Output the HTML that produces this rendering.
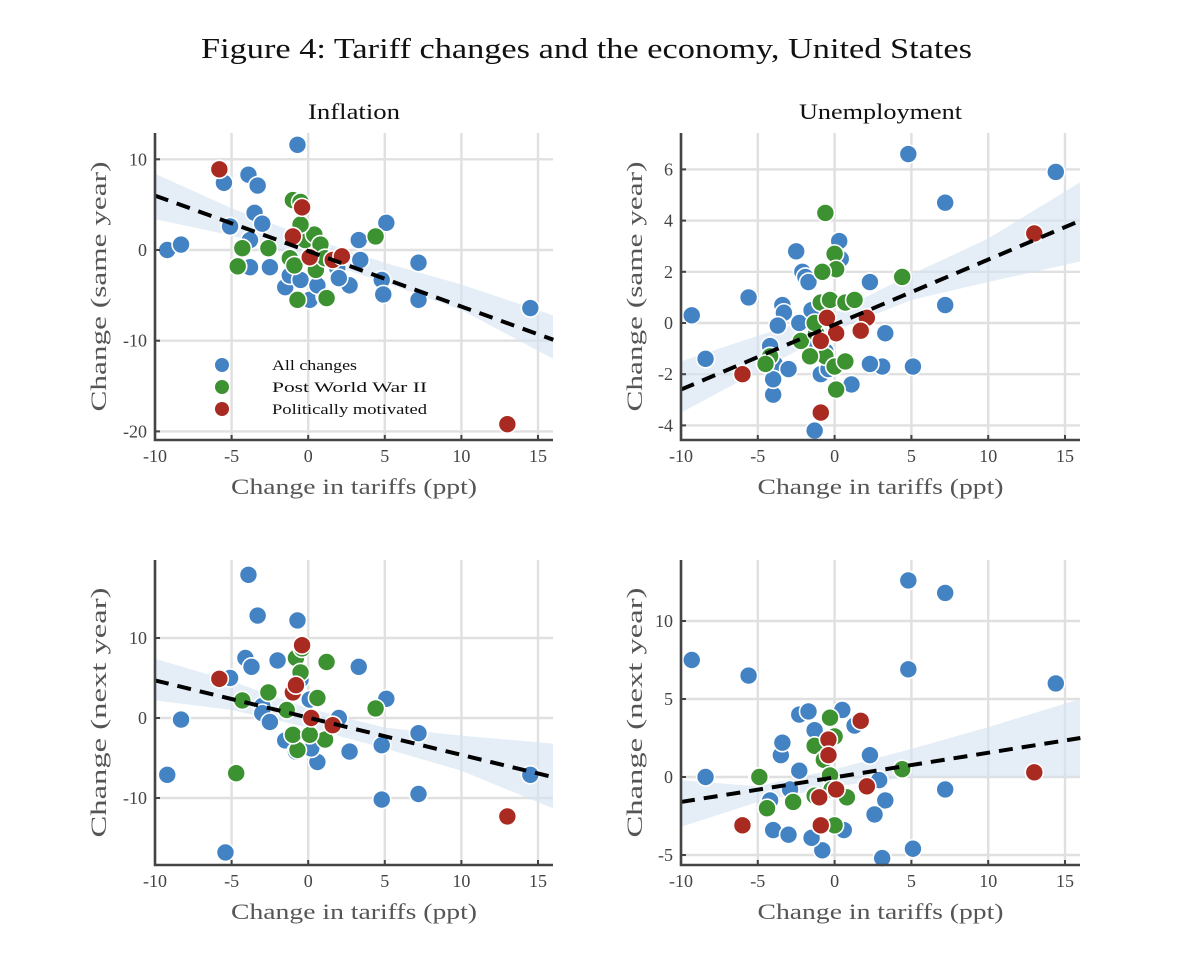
<!DOCTYPE html>
<html><head><meta charset="utf-8"><style>
body{margin:0;background:#fff;}
svg text{font-family:"Liberation Serif",serif;}
</style></head><body>
<svg id="fig" width="1200" height="958" viewBox="0 0 1200 958" xmlns="http://www.w3.org/2000/svg">
<rect width="1200" height="958" fill="#fff"/>
<text x="201" y="58" textLength="771" lengthAdjust="spacingAndGlyphs" font-size="28" fill="#111">Figure 4: Tariff changes and the economy, United States</text>
</svg>
<script>
// ---- Panel 1: Inflation, same year ----
const infSameBlue=[[-9.2,0],[-8.3,0.6],[-5.5,7.4],[-3.9,8.3],[-3.3,7.1],[-0.7,11.6],[-3.5,4.1],[-3,2.9],[-5.1,2.6],[-3.8,1.1],[-2.5,-1.9],[-3.8,-1.9],[-1.5,-4.1],[-1.2,-2.8],[0.1,-5.5],[1.1,-5.1],[1.9,-2],[2.7,-3.9],[3.4,-1.1],[3.3,1.1],[5.1,3],[4.8,-3.3],[4.9,-4.9],[7.2,-1.4],[7.2,-5.5],[14.5,-6.4],[-0.5,-3.3],[2,-3.1],[0.6,-3.9]];
const infSameGreen=[[-1,5.5],[-0.5,5.3],[-4.3,0.2],[-2.6,0.2],[-4.6,-1.8],[-0.7,-5.5],[1.2,-5.3],[4.4,1.5],[-1.2,-0.9],[-0.2,1.1],[0.4,1.7],[0.8,0.6],[0.5,-2.2],[1.1,-0.9],[-0.5,2.8],[-0.9,-1.7]];
const infSameRed=[[-5.8,8.9],[-0.4,4.7],[-1,1.5],[0.1,-0.8],[1.6,-1.1],[2.2,-0.7],[13,-19.2]];
const infSameFit=[[-10,6],[16,-9.9]];
const infSameBandX=[-10,-5,0,5,10,16];
const infSameBandLo=[3.4,1.6,-0.8,-3.6,-6.6,-12];
const infSameBandHi=[8.4,4.6,1.4,-1.4,-3.8,-7.2];
// ---- Panel 2: Unemployment, same year ----
const unSameBlue=[[-9.3,0.3],[-8.4,-1.4],[-5.6,1],[-4,-2.8],[-2.5,2.8],[-2.1,2],[-3.4,0.7],[-3.3,0.4],[-2.3,0],[-3.7,-0.1],[-4.2,-0.9],[-3.9,-1.6],[-3,-1.8],[-4,-2.2],[-1.5,0.5],[-1.9,1.8],[-1.7,1.6],[0.3,3.2],[0.4,2.5],[2.3,1.6],[4.8,6.6],[7.2,4.7],[7.2,0.7],[5.1,-1.7],[14.4,5.9],[3.3,-0.4],[3.1,-1.7],[2.3,-1.6],[1.1,-2.4],[-0.9,-2],[-1.3,-4.2],[-0.6,-1.1],[-0.4,-1.8],[-1.5,-0.7]];
const unSameGreen=[[-0.6,4.3],[0,2.7],[0.1,2.1],[-0.8,2],[-0.9,0.8],[-0.3,0.9],[0.7,0.8],[1.3,0.9],[-4.2,-1.3],[-4.5,-1.6],[-2.2,-0.7],[-1.2,-0.4],[-0.6,-1.3],[0,-1.7],[0.1,-2.6],[0.7,-1.5],[4.4,1.8],[-1.6,-1.3],[-1.3,0]];
const unSameRed=[[-6,-2],[-0.5,0.2],[2.1,0.2],[1.7,-0.3],[0.1,-0.4],[-0.9,-0.7],[-0.9,-3.5],[13,3.5]];
const unSameFit=[[-10,-2.6],[16,4]];
const unSameBandX=[-10,-5,0,5,10,16];
const unSameBandLo=[-3.5,-1.9,-0.3,0.9,1.6,2.4];
const unSameBandHi=[-1.5,-0.5,0.4,1.9,3.3,5.5];
// ---- Panel 3: Inflation, next year ----
const infNextBlue=[[-9.2,-7.1],[-8.3,-0.2],[-3.9,17.9],[-3.3,12.8],[-0.7,12.2],[-4.1,7.5],[-3.7,6.4],[-5.1,5],[-2,7.2],[-3,1.5],[-3,0.6],[-2.5,-0.5],[-1.5,-2.8],[0.6,-5.5],[2,0],[2.7,-4.2],[3.3,6.4],[5.1,2.4],[4.8,-3.4],[4.8,-10.2],[7.2,-1.9],[7.2,-9.5],[14.5,-7.1],[-5.4,-16.8],[-0.8,-4.2],[0.2,-3.8],[-0.5,4.8],[0.1,2.3]];
const infNextGreen=[[-4.7,-6.9],[-4.3,2.2],[-2.6,3.2],[1.2,7],[4.4,1.2],[-0.8,7.5],[-0.4,8.7],[-0.7,-4],[1.1,-2.7],[-1,-2.1],[0.1,-2.1],[0.6,2.5],[-0.5,5.7],[-1.4,1]];
const infNextRed=[[-5.8,4.9],[-0.4,9.1],[-1,3.2],[-0.8,4.1],[0.2,0],[1.6,-0.9],[13,-12.3]];
const infNextFit=[[-10,4.7],[16,-7.4]];
const infNextBandX=[-10,-5,0,5,10,16];
const infNextBandLo=[2.2,1,-1.2,-3.8,-6.6,-11.3];
const infNextBandHi=[7.4,4.6,1.2,-1.2,-2.2,-3.2];
// ---- Panel 4: Unemployment, next year ----
const unNextBlue=[[-9.3,7.5],[-8.4,0],[-5.6,6.5],[-5,0],[-4,-3.4],[-3,-3.7],[-3.5,1.4],[-3.4,2.2],[-2.3,4],[-1.7,4.2],[-1.3,3],[0.5,4.3],[1.3,3.3],[2.3,1.4],[2.9,-0.2],[3.3,-1.5],[2.6,-2.4],[3.1,-5.2],[5.1,-4.6],[4.8,12.6],[7.2,11.8],[4.8,6.9],[7.2,-0.8],[14.4,6],[-0.8,-4.7],[-1.5,-3.9],[0.6,-3.4],[-4.2,-1.5],[-2.9,-0.8],[-2.3,0.4]];
const unNextGreen=[[-4.9,0],[-4.4,-2],[-2.7,-1.6],[-0.3,3.8],[0,2.6],[-1.3,2],[-0.7,1.1],[-0.3,0.1],[-1.3,-1.2],[-0.9,-3.1],[0,-3.1],[0.8,-1.3],[4.4,0.5],[-0.2,-0.8]];
const unNextRed=[[-6,-3.1],[1.7,3.6],[-0.4,2.4],[-0.4,1.4],[2.1,-0.6],[0.1,-0.8],[-1,-1.3],[-0.9,-3.1],[13,0.3]];
const unNextFit=[[-10,-1.6],[16,2.5]];
const unNextBandX=[-10,-5,0,5,10,16];
const unNextBandLo=[-3.2,-1.6,-0.6,0,0,0];
const unNextBandHi=[-0.2,-0.6,0.5,1.8,3.2,5];
// ticks
const xTicks=[-10,-5,0,5,10,15];
const xTickLabels=["-10","-5","0","5","10","15"];
const infSameYTicks=[10,0,-10,-20];
const unSameYTicks=[6,4,2,0,-2,-4];
const infNextYTicks=[10,0,-10];
const unNextYTicks=[10,5,0,-5];
const legendLabels=["All changes","Post World War II","Politically motivated"];

const NS="http://www.w3.org/2000/svg";
const svg=document.getElementById('fig');
const COL={blue:"#4383c4",green:"#3c9130",red:"#a82a20"};
function mk(tag,attrs,parent){const e=document.createElementNS(NS,tag);for(const k in attrs)e.setAttribute(k,attrs[k]);(parent||svg).appendChild(e);return e;}

function panel(cfg){
  const g=mk('g',{});
  
  
  const xs=v=>cfg.x0+(v+10)*cfg.xk;
  const ys=v=>cfg.yZero-v*cfg.yk;
  const L=cfg.x0, R=cfg.right, T=cfg.top, B=cfg.bottom;
  xTicks.forEach(v=>{const l=mk('line',{x1:xs(v),x2:xs(v),y1:T,y2:B,stroke:"#e0e0e0","stroke-width":2.4},g);
    });
  cfg.yTicks.forEach(v=>{const l=mk('line',{x1:L,x2:R,y1:ys(v),y2:ys(v),stroke:"#e0e0e0","stroke-width":2.4},g);
    });
  let d="";
  cfg.bandX.forEach((v,i)=>{d+=(i?"L":"M")+Math.min(xs(v),R)+","+ys(cfg.bandHi[i]);});
  for(let i=cfg.bandX.length-1;i>=0;i--)d+="L"+Math.min(xs(cfg.bandX[i]),R)+","+ys(cfg.bandLo[i]);
  const band=mk('path',{d:d+"Z",fill:"#d3e3f2","fill-opacity":0.6},g);
  
  
  [['blue',cfg.blue],['green',cfg.green],['red',cfg.red]].forEach(([c,arr])=>{
    arr.forEach(p=>{const ci=mk('circle',{cx:xs(p[0]),cy:ys(p[1]),r:9,fill:COL[c],stroke:"#fff","stroke-width":1.6},g);
      });
  });
  const f=cfg.fit;
  const fl=mk('line',{x1:xs(f[0][0]),y1:ys(f[0][1]),x2:xs(f[1][0]),y2:ys(f[1][1]),stroke:"#000","stroke-width":4,"stroke-dasharray":"14,9"},g);
  
  
  const ax=mk('path',{d:`M${L},${T}L${L},${B}L${R},${B}`,fill:"none",stroke:"#444","stroke-width":2.6},g);
  
  
  xTicks.forEach((v,i)=>{
    mk('line',{x1:xs(v),x2:xs(v),y1:B,y2:B-5,stroke:"#444","stroke-width":2},g);
    const t=mk('text',{x:xs(v),y:B+22,"text-anchor":"middle","font-size":18,fill:"#444"},g);
    t.textContent=xTickLabels[i];
    
  });
  cfg.yTicks.forEach(v=>{
    mk('line',{x1:L,x2:L+5,y1:ys(v),y2:ys(v),stroke:"#444","stroke-width":2},g);
    const t=mk('text',{x:L-8,y:ys(v)+6,"text-anchor":"end","font-size":18,fill:"#444"},g);
    t.textContent=String(v);
    
  });
  const xt=mk('text',{x:(L+R)/2,y:B+54,"text-anchor":"middle","font-size":22,fill:"#555",textLength:246,lengthAdjust:"spacingAndGlyphs"},g);
  xt.textContent="Change in tariffs (ppt)";
  
  const yc=(T+B)/2;
  const yt=mk('text',{x:cfg.yTitleX,y:yc,"text-anchor":"middle","font-size":22,fill:"#555",textLength:250,lengthAdjust:"spacingAndGlyphs",transform:`rotate(-90 ${cfg.yTitleX} ${yc})`},g);
  yt.textContent=cfg.yTitle;
  
  if(cfg.title){const tt=mk('text',{x:(L+R)/2,y:T-14,"text-anchor":"middle","font-size":22,fill:"#111",textLength:cfg.titleLen,lengthAdjust:"spacingAndGlyphs"},g);
    tt.textContent=cfg.title;}
  return g;
}

panel({name:'inflation-same-year-panel',x0:155,xk:15.32,right:553,top:133,bottom:440,yZero:250,yk:9.07,yTicks:infSameYTicks,blue:infSameBlue,green:infSameGreen,red:infSameRed,fit:infSameFit,bandX:infSameBandX,bandLo:infSameBandLo,bandHi:infSameBandHi,yTitle:"Change (same year)",yTitleX:106,title:"Inflation",titleLen:92});
panel({name:'unemployment-same-year-panel',x0:681,xk:15.36,right:1080,top:133,bottom:440,yZero:323,yk:25.6,yTicks:unSameYTicks,blue:unSameBlue,green:unSameGreen,red:unSameRed,fit:unSameFit,bandX:unSameBandX,bandLo:unSameBandLo,bandHi:unSameBandHi,yTitle:"Change (same year)",yTitleX:642,title:"Unemployment",titleLen:163});
panel({name:'inflation-next-year-panel',x0:155,xk:15.32,right:553,top:560,bottom:865,yZero:718,yk:8,yTicks:infNextYTicks,blue:infNextBlue,green:infNextGreen,red:infNextRed,fit:infNextFit,bandX:infNextBandX,bandLo:infNextBandLo,bandHi:infNextBandHi,yTitle:"Change (next year)",yTitleX:106});
panel({name:'unemployment-next-year-panel',x0:681,xk:15.36,right:1080,top:560,bottom:865,yZero:777,yk:15.6,yTicks:unNextYTicks,blue:unNextBlue,green:unNextGreen,red:unNextRed,fit:unNextFit,bandX:unNextBandX,bandLo:unNextBandLo,bandHi:unNextBandHi,yTitle:"Change (next year)",yTitleX:642});

const lg=mk('g',{});


const legendLens=[85,155,155];
['blue','green','red'].forEach((c,i)=>{
  const y=365+i*22;
  const d=mk('circle',{cx:222,cy:y,r:7,fill:COL[c]},lg);
  
  const t=mk('text',{x:272,y:y+5,"font-size":15,fill:"#111",textLength:legendLens[i],lengthAdjust:"spacingAndGlyphs"},lg);
  t.textContent=legendLabels[i];
  
});
</script>
</body></html>
